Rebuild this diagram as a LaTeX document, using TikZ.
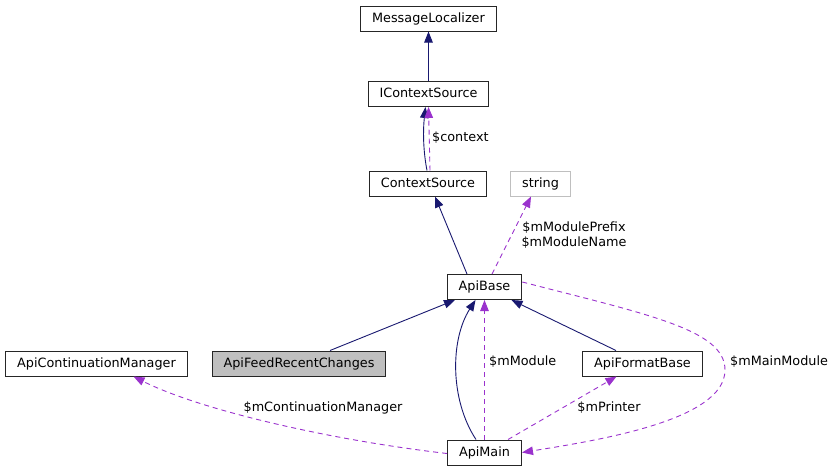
\documentclass[tikz,border=0pt]{standalone}
\usepackage{fontspec}
\setmainfont{DejaVu Sans}
\usetikzlibrary{arrows.meta}
\definecolor{inhcol}{HTML}{191970}
\definecolor{memcol}{HTML}{9A32CD}

\begin{document}
\begin{tikzpicture}[x=1pt, y=-1pt, font=\fontsize{12.8}{15}\selectfont,
    cls/.style={draw=black!85, line width=1pt, fill=white, inner xsep=11.5pt, inner ysep=0pt, minimum height=25pt, text height=9.5pt, text depth=2.5pt},
    lbl/.style={inner sep=0pt, text height=9.5pt, text depth=2.5pt},
    inh/.style={draw=inhcol, line width=0.9pt, -{Triangle[length=11pt, width=8.5pt]}, inhcol},
    mem/.style={draw=memcol, line width=0.9pt, dash pattern=on 5pt off 4pt, -{Triangle[length=11pt, width=8.5pt]}, memcol}]
    \useasboundingbox (0,0) rectangle (835,472);

    \node[cls] (msgloc) at (428.5,18.5) {MessageLocalizer};
    \node[cls] (icontext) at (428.5,94) {IContextSource};
    \node[cls] (context) at (428,183.5) {ContextSource};
    \node[cls, draw=black!25] (string) at (540.5,183.5) {string};
    \node[cls] (apibase) at (484.5,287) {ApiBase};
    \node[cls] (contmgr) at (96.5,363.5) {ApiContinuationManager};
    \node[cls, fill=black!25] (feed) at (299,363.5) {ApiFeedRecentChanges};
    \node[cls] (fmtbase) at (642.5,363.5) {ApiFormatBase};
    \node[cls] (apimain) at (484.5,452.5) {ApiMain};

    \draw[inh] (icontext) -- (msgloc);
    \draw[inh] ([xshift=-1pt]context.north) .. controls (423,150) and (423,130) .. ([xshift=-3pt]icontext.south);
    \draw[mem] ([xshift=2pt]context.north) -- (icontext.south);
    \draw[inh] ([xshift=-17.5pt]apibase.north) -- ([xshift=7pt]context.south);
    \draw[mem] ([xshift=7.5pt]apibase.north) -- ([xshift=-9.5pt]string.south);
    \draw[inh] ([xshift=31pt]feed.north) -- ([xshift=-29.5pt]apibase.south);
    \draw[inh] ([xshift=-8.5pt]apimain.north) .. controls (450,400) and (450,340) .. ([xshift=-9pt]apibase.south);
    \draw[mem] (apimain.north) -- (apibase.south);
    \draw[inh] ([xshift=-26.5pt]fmtbase.north) -- ([xshift=27pt]apibase.south);
    \draw[mem] ([xshift=23.5pt]apimain.north) -- ([xshift=-26pt]fmtbase.south);
    \draw[mem] ([yshift=5pt]apibase.east) .. controls (650,315) and (725,330) .. (725,370) .. controls (725,420) and (600,440) .. (apimain.east);
    \draw[mem] ([yshift=-1pt]apimain.west) .. controls (330,440) and (200,410) .. ([xshift=37pt]contmgr.south);

    \node[lbl, anchor=west] (lcontext) at (432,138) {\$context};
    \node[lbl, align=center, text height=, text depth=] (lname) at (574,235) {\$mModulePrefix\\\$mModuleName};
    \node[lbl, anchor=west] (lmodule) at (489,362) {\$mModule};
    \node[lbl] (lprinter) at (609,408) {\$mPrinter};
    \node[lbl, anchor=west] (lmain) at (730,362) {\$mMainModule};
    \node[lbl] (lcont) at (323,408) {\$mContinuationManager};
\end{tikzpicture}
\end{document}
